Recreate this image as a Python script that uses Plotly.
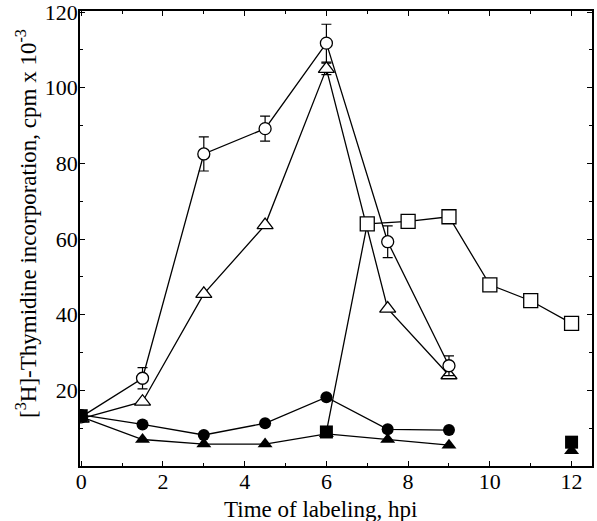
import plotly.graph_objects as go

# Data
x_main = [0, 1.5, 3, 4.5, 6, 7.5, 9]
open_circle = [13, 23.2, 82.5, 89.2, 111.8, 59.3, 26.5]
open_circle_err = [0, 2.8, 4.5, 3.3, 5.0, 4.2, 2.6]
open_triangle = [12.5, 17, 45.5, 63.7, 105, 41.6, 24]
open_triangle_err = [0, 0, 0, 0, 1.5, 0, 0]
filled_circle = [13.5, 11, 8.2, 11.3, 18.2, 9.7, 9.5]
filled_triangle = [13, 7, 5.8, 5.8, 8.5, 7, 5.5]

x_osq = [6, 7, 8, 9, 10, 11, 12]
open_square = [9, 64, 64.7, 65.9, 47.9, 43.7, 37.7]

x_fsq = [0, 6, 12]
filled_square = [13.3, 9, 6.3]
x_ftri_end = [12]
filled_triangle_end = [4]

xticks = [0, 2, 4, 6, 8, 10, 12]
yticks = [20, 40, 60, 80, 100, 120]

BLACK = "black"
LW = 1.3
FONT = "Liberation Serif"

fig = go.Figure()

def err(vals):
    return dict(type="data", array=vals, visible=True, color=BLACK, thickness=1.2, width=5)

fig.add_trace(go.Scatter(x=x_osq, y=open_square, mode="lines", line=dict(color=BLACK, width=LW), showlegend=False))
fig.add_trace(go.Scatter(x=x_main, y=filled_triangle, mode="lines+markers",
                         line=dict(color=BLACK, width=LW),
                         marker=dict(symbol="triangle-up", size=13, color=BLACK), showlegend=False))
fig.add_trace(go.Scatter(x=x_main, y=filled_circle, mode="lines+markers",
                         line=dict(color=BLACK, width=LW),
                         marker=dict(symbol="circle", size=12, color=BLACK), showlegend=False))
fig.add_trace(go.Scatter(x=x_main, y=open_triangle, mode="lines+markers",
                         line=dict(color=BLACK, width=LW), error_y=err(open_triangle_err),
                         marker=dict(symbol="triangle-up", size=14, color="white", line=dict(color=BLACK, width=1.3)),
                         showlegend=False))
fig.add_trace(go.Scatter(x=x_main, y=open_circle, mode="lines+markers",
                         line=dict(color=BLACK, width=LW), error_y=err(open_circle_err),
                         marker=dict(symbol="circle", size=12, color="white", line=dict(color=BLACK, width=1.3)),
                         showlegend=False))
fig.add_trace(go.Scatter(x=x_osq[1:], y=open_square[1:], mode="markers",
                         marker=dict(symbol="square", size=14, color="white", line=dict(color=BLACK, width=1.3)),
                         showlegend=False))
fig.add_trace(go.Scatter(x=x_fsq, y=filled_square, mode="markers",
                         marker=dict(symbol="square", size=13, color=BLACK), showlegend=False))
fig.add_trace(go.Scatter(x=x_ftri_end, y=filled_triangle_end, mode="markers",
                         marker=dict(symbol="triangle-up", size=13, color=BLACK), showlegend=False))

axis_common = dict(
    showgrid=False, zeroline=False, showline=True, linecolor=BLACK, linewidth=1.5,
    mirror="ticks", ticks="inside", ticklen=5, tickcolor=BLACK, tickwidth=1.2,
    tickfont=dict(family=FONT, size=22, color=BLACK),
    ticklabeloverflow="allow",
)

fig.update_layout(
    width=597, height=521,
    margin=dict(l=80, r=5, t=11, b=55, autoexpand=False),
    paper_bgcolor="white", plot_bgcolor="white",
    font=dict(family=FONT, color=BLACK),
    xaxis=dict(range=[-0.03, 12.5], tickvals=xticks, ticktext=[str(v) for v in xticks],
               minor=dict(dtick=1, tick0=0, ticks="inside", ticklen=3, tickcolor=BLACK),
               automargin=False, ticklabelstandoff=-5,
               **axis_common),
    yaxis=dict(range=[0, 120.3], tickvals=yticks, ticktext=[str(v) for v in yticks],
               minor=dict(dtick=10, tick0=0, ticks="inside", ticklen=3, tickcolor=BLACK),
               automargin=False, ticklabelstandoff=-4,
               **axis_common),
    annotations=[
        dict(text="[<sup>3</sup>H]-Thymidine incorporation, cpm x 10<sup>-3</sup>",
             textangle=-90, xref="paper", yref="paper", x=0, xshift=-53, y=0.532,
             xanchor="center", yanchor="middle", showarrow=False,
             font=dict(family=FONT, size=23, color=BLACK)),
        dict(text="Time of labeling, hpi", xref="paper", yref="paper",
             x=0.47, y=0, yshift=-43, xanchor="center", yanchor="middle", showarrow=False,
             font=dict(family=FONT, size=23, color=BLACK)),
    ],
)

fig.write_html("out.html", config={"displayModeBar": False},
               post_script="document.body.style.margin='0';")
